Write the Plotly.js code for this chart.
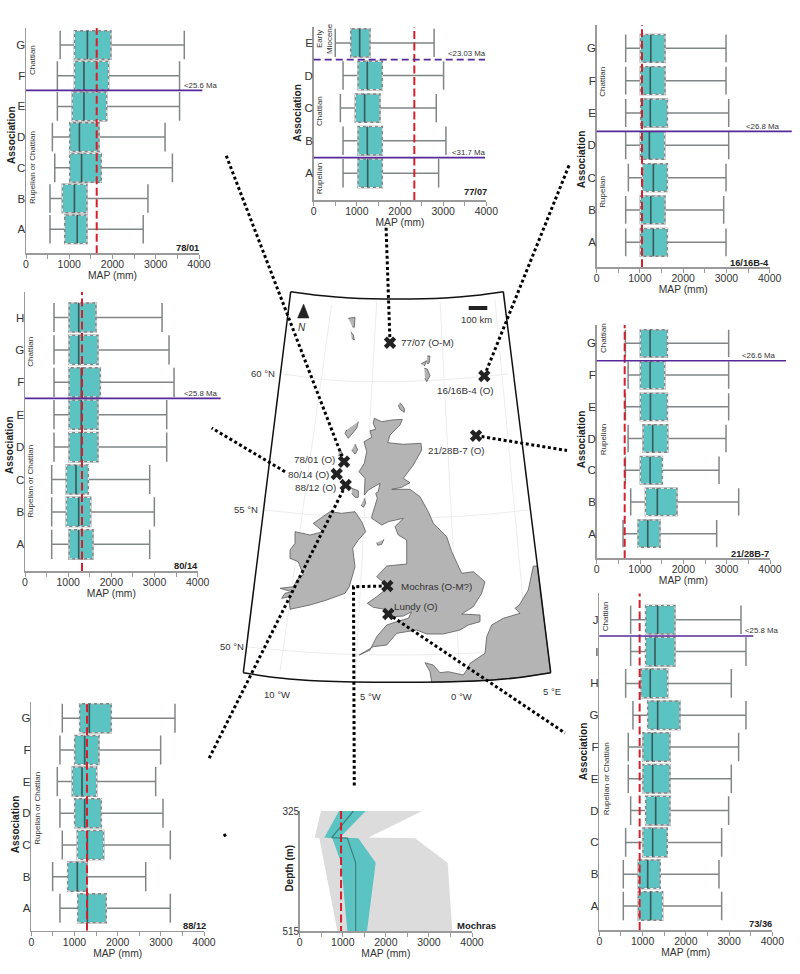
<!DOCTYPE html>
<html><head><meta charset="utf-8">
<script src="https://cdn.plot.ly/plotly-3.0.0.min.js"></script>
<style>html,body{margin:0;padding:0;background:#fff}#c{width:800px;height:974px}</style>
</head><body><div id="c"></div>
<script>
// ---------- chart data (MAP in mm) ----------
const mapTicks = [0,500,1000,1500,2000,2500,3000,3500,4000];
const mapTickText = ['0','','1000','','2000','','3000','','4000'];

const cats7801 = ['A','B','C','D','E','F','G'];
const low7801  = [555,555,665,610,725,725,790];
const q17801   = [895,840,1010,1010,1070,1120,1120];
const med7801  = [1185,1120,1285,1235,1340,1340,1420];
const q37801   = [1410,1410,1740,1690,1865,1910,1965];
const high7801 = [2710,2820,3385,3215,3550,3550,3660];

const cats7707 = ['A','B','C','D','E'];
const low7707  = [680,680,618,680,500];
const q17707   = [1027,1027,965,1027,857];
const med7707  = [1250,1243,1180,1243,1065];
const q37707   = [1590,1590,1537,1590,1305];
const high7707 = [2895,3065,2840,3010,2790];

const cats1616 = ['A','B','C','D','E','F','G'];
const low1616  = [670,670,732,670,670,670,670];
const q11616   = [1010,1010,1064,1010,1017,1010,1010];
const med1616  = [1310,1250,1310,1218,1240,1240,1250];
const q31616   = [1634,1580,1634,1572,1634,1580,1580];
const high1616 = [2990,2936,2990,3052,3052,2990,2990];

const cats8014 = ['A','B','C','D','E','F','G','H'];
const low8014  = [618,618,618,672,672,672,672,672];
const q18014   = [1020,958,958,1020,1020,1020,1020,1020];
const med8014  = [1243,1243,1181,1305,1305,1305,1243,1243];
const q38014   = [1575,1521,1467,1691,1691,1745,1691,1645];
const high8014 = [2888,2996,2888,3282,3282,3452,3336,3174];

const cats2128 = ['A','B','C','D','E','F','G'];
const low2128  = [608,785,662,725,662,725,662];
const q12128   = [954,1125,1008,1070,1008,1008,1008];
const med2128  = [1177,1400,1233,1292,1240,1233,1233];
const q32128   = [1462,1854,1516,1640,1632,1570,1632];
const high2128 = [2769,3277,2823,2985,3046,3046,3046];

const cats7336 = ['A','B','C','D','E','F','G','H','I','J'];
const low7336  = [555,555,609,725,670,670,778,609,725,725];
const q17336   = [902,902,1010,1071,1010,1010,1118,963,1071,1071];
const med7336  = [1187,1118,1233,1303,1233,1225,1349,1179,1287,1349];
const q37336   = [1464,1410,1572,1634,1634,1634,1865,1580,1750,1750];
const high7336 = [2829,2767,2829,2990,3052,3221,3391,3052,3391,3276];

const cats8812 = ['A','B','C','D','E','F','G'];
const low8812  = [664,494,718,664,602,664,718];
const q18812   = [1074,842,1066,1004,950,1004,1120];
const med8812  = [1298,1066,1298,1236,1174,1236,1344];
const q38812   = [1737,1290,1676,1622,1514,1568,1853];
const high8812 = [3220,2650,3220,3050,2880,2996,3328];

const redMap = {p7801:1635,p7707:2332,p1616:1048,p8014:1320,p2128:646,p7336:933,p8812:1290};

const mochDepth    = [325,367,368,407,515];
const mochGreyLow  = [495,348,456,565,874];
const mochGreyHigh = [2847,1594,2677,3435,3543];
const mochQ1       = [913,572,758,960,1106];
const mochQ3       = [1532,936,1362,1764,1563];
const mochMed      = [1246,743,1106,1300,1300];
const mochRed      = 960;

// ---------- map outlines, in page pixels ----------
const gbX=[374.3,381.7,391.7,402.3,400,390,387.7,403.3,421,421.7,413.3,403.3,410,401.7,391.7,410,420,428.3,433.3,446.7,451.7,461.7,473.3,485,481.7,473.3,461.7,480,480,468.3,460,443.3,426.7,416.7,406.7,396.7,386.7,373.3,359.3,370,376.7,386.7,396.7,408.3,411.7,403.3,393.3,385,373.3,367.3,376.7,385,386.7,376.7,386.7,406.7,406.7,398.3,395,403.3,388.3,381.7,371.7,371.7,377.3,375.7,378.3,380,368.3,364.3,365,359,364.3,366.7,364,371.7,370,375.7,373.3,374.3];
const gbY=[418.3,421.7,420,419.3,425,435,442.7,444.3,443.3,450,465,478.3,482.7,487.3,489.3,489.3,496.7,511.7,523.3,536.7,551.7,573.3,571.7,581.7,593.3,606.7,614,615,621.7,625,630,634,634,630,631.7,633.3,645,646.7,655,650,636.7,625,621.7,618.3,611.7,616,616.7,609.3,607.3,603.3,596.7,590,585,576.7,566,564,540,535,526.7,518.3,521.7,525,518.3,516.7,498.3,493.3,491.7,483.3,490,495,478.3,471.7,463.3,451.7,441.7,437.3,430.7,429.3,423.3,418.3];
const irX=[330,341.7,355,361.7,365.7,358.3,352.7,355,349.3,345,326.7,310,290,289.3,281.7,285,291.7,280,293.3,298.3,303.3,298.3,290,290,295,295,310,323.3,313.3,330];
const irY=[511.7,513.3,511.7,521.7,531.7,540,548.3,566.7,586.7,593.3,600,605,609.3,596.7,598.3,593.3,591.7,588.3,586.7,578.3,575,561.7,558.3,550,543.3,531.7,535,531.7,523.3,511.7];
const frX=[533.3,528.3,519.3,515,520,503.3,491.7,486.7,485,470,466.7,463.3,448.3,440,433.3,425,430,431.7,475,515,550.7,537.4,533.3];
const frY=[566,590,605,608.3,613.3,618.3,625,636.7,653.3,663.3,670,675,671.7,672.7,665,662.7,671.7,682.3,681,678,672.7,566,566];
const isleXs=[[400,404.3,404.3,400,398.3],[358.3,356.7,348.3,345,346.7],[355,357.7,355,351.7],[351.7,358.3,358.3,355,351.7],[364.3,365.7,363.3,361],[384,381.7,377.7,376.7],[339.3,343.3,338.3],[348.3,355,354.3,352.3],[350.7,353.3,354.3,351.7],[427.3,430,429,426.7],[421,426.7,424.3],[424.3,427.3,430,426.7,425]];
const isleYs=[[402.7,408.3,412.3,409.3,405],[421.7,428.3,438.3,433.3,430],[444,450,454,450],[488.3,490.7,497.3,497.3,493.3],[498.3,503.3,507.3,505],[539.3,544.3,545.3,542.7],[448.3,455,455.7],[318.3,317.3,327.3,326.7],[331.7,335,340,338.3],[356,356,363.3,363.3],[364,360.7,366],[368.3,369,375.7,381.7,378.3]];
const frameTopX=[290.7,320,350,397,445,475,503.3];
const frameTopY=[291.7,295.5,298,299,298,295.5,291.7];
const frameBotX=[243.3,280,320,397,475,515,550.7];
const frameBotY=[672.7,678,681,682.3,681,678,672.7];
const gratX=[[283,330,376.7,440,508],[265,330,397,465,528],[247,320,397,475,547],[331.7,280],[376.7,355],[440,460],[495,530]];
const gratY=[[374,380,381.7,380,374],[510,516,518,516,510],[647,653,655,653,647],[305,671.7],[301.7,681.7],[301.7,680],[300,676]];

const siteNames=['77/07 (O-M)','16/16B-4 (O)','21/28B-7 (O)','78/01 (O)','80/14 (O)','88/12 (O)','Mochras (O-M?)','Lundy (O)'];
const siteX=[390,484.3,476,344,336.7,345.7,387.3,388.3];
const siteY=[342.7,376,435.7,461.7,474,485,586,614];
const siteLabelX=[427,465.3,456,314.3,308.3,315,436,416];
const siteLabelY=[342.3,390.7,450,459.3,474.3,487.3,586.7,606];
const linkXs=[[390,386],[484.3,570],[476,567],[344,226],[285,211.7],[345.7,208.3],[387.3,353.5,354.3],[388.3,565],[224,226]];
const linkYs=[[342.7,225],[376,163],[435.7,450.5],[461.7,155],[471.7,428],[485,760],[586,586.7,787],[614,733],[834,837]];

const GRID='#ededed', TEAL='#5cc3c3', AXIS='#9a9a9a', RED='#d2202c', PURPLE='#55299a', TXT='#333';
const FONT='"Liberation Sans", Arial, sans-serif';

const panels=[
 {id:'78/01',cats:cats7801,low:low7801,q1:q17801,med:med7801,q3:q37801,high:high7801,red:redMap.p7801,x0:26,x1:199,top:28,bot:253.3,a:229.3,sp:30.73,w:.93,
  lines:[{y:4.52,xe:4077,d:'solid',t:'<25.6 Ma',tx:200.5,ty:85.7}],idAt:[187,248],assoc:[11,135],side:[['Chattian',32,60],['Rupelian or Chattian',32,168]]},
 {id:'77/07',cats:cats7707,low:low7707,q1:q17707,med:med7707,q3:q37707,high:high7707,red:redMap.p7707,x0:313.7,x1:486.3,top:27,bot:200,a:173.3,sp:32.6,w:.87,
  lines:[{y:.48,xe:3970,d:'solid',t:'<31.7 Ma',tx:468,ty:152.7},{y:3.49,xe:3970,d:'7px,4px',t:'<23.03 Ma',tx:466.7,ty:53}],idAt:[475,191.7],assoc:[298,112.7],side:[['Early<br>Miocene',324,39],['Chattian',319.3,110.7],['Rupelian',319.3,178]]},
 {id:'16/16B-4',cats:cats1616,low:low1616,q1:q11616,med:med1616,q3:q31616,high:high1616,red:redMap.p1616,x0:596.7,x1:769.7,top:25,bot:267.3,a:242.3,sp:32.33,w:.86,
  lines:[{y:3.43,xe:4510,d:'solid',t:'<26.8 Ma',tx:762,ty:126}],idAt:[749,263],assoc:[581.3,159],side:[['Chattian',603,81.7],['Rupelian',603,191.7]]},
 {id:'80/14',cats:cats8014,low:low8014,q1:q18014,med:med8014,q3:q38014,high:high8014,red:redMap.p8014,x0:25,x1:197.7,top:291.7,bot:571,a:544.3,sp:32.4,w:.9,
  lines:[{y:4.505,xe:4533,d:'solid',t:'<25.8 Ma',tx:200,ty:393.7}],idAt:[185.7,566],assoc:[9,445],side:[['Chattian',31,351.7],['Rupelian or Chattian',31,481.7]]},
 {id:'21/28B-7',cats:cats2128,low:low2128,q1:q12128,med:med2128,q3:q32128,high:high2128,red:redMap.p2128,x0:596.7,x1:770,top:325,bot:558.3,a:533.7,sp:31.73,w:.86,
  lines:[{y:5.45,xe:4370,d:'solid',t:'<26.6 Ma',tx:758.3,ty:355.3}],idAt:[750,553.7],assoc:[581.3,439],side:[['Chattian',603,338],['Rupelian',603,439.3]]},
 {id:'73/36',cats:cats7336,low:low7336,q1:q17336,med:med7336,q3:q37336,high:high7336,red:redMap.p7336,x0:599.3,x1:772.3,top:593.3,bot:930,a:906,sp:31.8,w:.9,
  lines:[{y:8.49,xe:3560,d:'solid',t:'<25.8 Ma',tx:761,ty:630.7}],idAt:[760,924.3],assoc:[583.3,751],side:[['Chattian',605.3,616],['Rupelian or Chattian',606,779.3]]},
 {id:'88/12',cats:cats8812,low:low8812,q1:q18812,med:med8812,q3:q38812,high:high8812,red:redMap.p8812,x0:31.3,x1:204,top:701.7,bot:930.7,a:908.3,sp:31.67,w:.92,
  lines:[],idAt:[194,926],assoc:[15.3,824],side:[['Rupelian or Chattian',36.7,808]]}
];

const traces=[], annotations=[], shapes=[];
const layout={width:800,height:974,margin:{l:0,r:0,t:0,b:0,pad:0},paper_bgcolor:'#fff',plot_bgcolor:'rgba(0,0,0,0)',showlegend:false,hovermode:false,
  font:{family:FONT,color:TXT},
  xaxis:{domain:[0,1],range:[0,800],visible:false,fixedrange:true},
  yaxis:{domain:[0,1],range:[974,0],visible:false,fixedrange:true}};

function note(text,x,y,o){annotations.push(Object.assign({text,x,y,xref:'x',yref:'y',showarrow:false,xanchor:'center',yanchor:'middle',font:{size:10,color:TXT,family:FONT}},o||{}));}

// ---- map layer ----
gratX.forEach((xs,i)=>traces.push({type:'scatter',mode:'lines',x:xs,y:gratY[i],line:{color:GRID,width:1,shape:'spline'}}));
const land=(x,y)=>traces.push({type:'scatter',mode:'lines',x,y,fill:'toself',fillcolor:'#b4b4b4',line:{color:'#5a5a5a',width:.8}});
land(gbX,gbY);land(irX,irY);land(frX,frY);
isleXs.forEach((xs,i)=>land(xs,isleYs[i]));
traces.push({type:'scatter',mode:'lines',x:frameTopX,y:frameTopY,line:{color:'#111',width:1.5,shape:'spline'}});
traces.push({type:'scatter',mode:'lines',x:frameBotX,y:frameBotY,line:{color:'#111',width:1.5,shape:'spline'}});
traces.push({type:'scatter',mode:'lines',x:[290.7,243.3],y:[291.7,672.7],line:{color:'#111',width:1.5}});
traces.push({type:'scatter',mode:'lines',x:[503.3,550.7],y:[291.7,672.7],line:{color:'#111',width:1.5}});
linkXs.forEach((xs,i)=>traces.push({type:'scatter',mode:'lines',x:xs,y:linkYs[i],line:{color:'#000',width:3,dash:'3px,2.6px'}}));
traces.push({type:'scatter',mode:'markers',x:siteX,y:siteY,marker:{symbol:'x',size:11,color:'#222',line:{width:0}}});
traces.push({type:'scatter',mode:'lines',x:[297.6,309,303.6,297.6],y:[318,318,304,318],fill:'toself',fillcolor:'#222',line:{color:'#222',width:.5}});
traces.push({type:'scatter',mode:'lines',x:[468.7,487.3],y:[308,308],line:{color:'#222',width:4}});
siteNames.forEach((n,i)=>note(n,siteLabelX[i],siteLabelY[i],{font:{size:9.8,color:TXT,family:FONT}}));
note('<i>N</i>',302.3,327.3,{font:{size:10,color:TXT,family:FONT}});
note('100 km',476.7,319.3,{font:{size:9.5,color:TXT,family:FONT}});
[['60 °N',263.3,373.3],['55 °N',246,509.3],['50 °N',232,646],['10 °W',277.3,694],['5 °W',370.7,696.7],['0 °W',461.7,696.7],['5 °E',552.3,691]]
  .forEach(g=>note(g[0],g[1],g[2],{font:{size:9.5,color:TXT,family:FONT}}));

// ---- box panels ----
function axisPair(n,x0,x1,top,bot){
  layout['xaxis'+n]={domain:[x0/800,x1/800],range:[0,4000],anchor:'y'+n,tickmode:'array',tickvals:mapTicks,ticktext:mapTickText,
    ticks:'outside',ticklen:4,tickwidth:1,tickcolor:AXIS,showline:true,linecolor:AXIS,linewidth:1.5,showgrid:false,zeroline:false,fixedrange:true,
    ticklabelstandoff:-3,tickfont:{size:10.5,color:TXT,family:FONT},title:{text:'MAP (mm)',font:{size:10.3,color:TXT,family:FONT},standoff:2}};
  layout['yaxis'+n]={domain:[1-bot/974,1-top/974],anchor:'x'+n,showline:true,linecolor:AXIS,linewidth:1.5,showgrid:false,zeroline:false,fixedrange:true,
    ticklabelstandoff:-3,tickfont:{size:11.5,color:TXT,family:FONT},ticks:''};
}
panels.forEach((p,i)=>{
  const n=i+2, xa='x'+n, ya='y'+n;
  axisPair(n,p.x0,p.x1,p.top,p.bot);
  const idx=p.cats.map((c,k)=>k), hw=p.w/2;
  Object.assign(layout['yaxis'+n],{tickmode:'array',tickvals:idx,ticktext:p.cats,range:[(p.a-p.bot)/p.sp,(p.a-p.top)/p.sp]});
  traces.push({type:'box',orientation:'h',xaxis:xa,yaxis:ya,y:idx,q1:p.q1,median:p.med,q3:p.q3,lowerfence:p.low,upperfence:p.high,
    width:p.w,whiskerwidth:1,boxpoints:false,fillcolor:TEAL,line:{color:'#808585',width:1.5}});
  const ox=[],oy=[],mx=[],my=[];
  idx.forEach(k=>{
    ox.push(p.q1[k],p.q3[k],p.q3[k],p.q1[k],p.q1[k],null);
    oy.push(k-hw,k-hw,k+hw,k+hw,k-hw,null);
    mx.push(p.med[k],p.med[k],null); my.push(k-hw,k+hw,null);
  });
  traces.push({type:'scatter',mode:'lines',xaxis:xa,yaxis:ya,x:ox,y:oy,line:{color:'#f2f8f8',width:1,dash:'3px,3px'}});
  traces.push({type:'scatter',mode:'lines',xaxis:xa,yaxis:ya,x:mx,y:my,line:{color:'#2f5f60',width:1.5}});
  traces.push({type:'scatter',mode:'lines',xaxis:xa,yaxis:ya,x:[p.red,p.red],y:layout['yaxis'+n].range,line:{color:RED,width:2,dash:'8px,3.5px'}});
  p.lines.forEach(l=>{
    // the age line runs past the axis end, so its x is expressed on the page while its y stays on the panel's axis
    const xEnd=(p.x0+(p.x1-p.x0)*l.xe/4000)/800;
    shapes.push({type:'line',layer:'above',xref:'paper',yref:ya,x0:p.x0/800,x1:xEnd,y0:l.y,y1:l.y,line:{color:PURPLE,width:1.7,dash:l.d}});
    note(l.t,l.tx,l.ty,{font:{size:7.8,color:TXT,family:FONT}});
  });
  note('<b>'+p.id+'</b>',p.idAt[0],p.idAt[1],{font:{size:9.3,color:'#222',family:FONT}});
  note('<b>Association</b>',p.assoc[0],p.assoc[1],{textangle:-90,font:{size:10.2,color:'#222',family:FONT}});
  p.side.forEach(s=>note(s[0],s[1],s[2],{textangle:-90,font:{size:8,color:TXT,family:FONT}}));
});

// ---- Mochras panel ----
const mn=panels.length+2, mxa='x'+mn, mya='y'+mn;
axisPair(mn,299.7,472,811,931);
Object.assign(layout['yaxis'+mn],{range:[515,325],tickmode:'array',tickvals:[325,515],ticktext:['325','515'],tickfont:{size:10,color:TXT,family:FONT}});
const band=(lo,hi,col)=>traces.push({type:'scatter',mode:'lines',xaxis:mxa,yaxis:mya,x:lo.concat(hi.slice().reverse()),y:mochDepth.concat(mochDepth.slice().reverse()),fill:'toself',fillcolor:col,line:{width:0,color:col}});
band(mochGreyLow,mochGreyHigh,'#dcdcdc');
band(mochQ1,mochQ3,TEAL);
traces.push({type:'scatter',mode:'lines',xaxis:mxa,yaxis:mya,x:mochMed,y:mochDepth,line:{color:'#3c7f80',width:1.2}});
traces.push({type:'scatter',mode:'lines',xaxis:mxa,yaxis:mya,x:[mochRed,mochRed],y:[325,515],line:{color:RED,width:2,dash:'8px,3.5px'}});
note('<b>Depth (m)</b>',289.3,868.3,{textangle:-90,font:{size:10,color:'#222',family:FONT}});
note('<b>Mochras</b>',476.7,925,{font:{size:9.5,color:'#222',family:FONT}});

layout.annotations=annotations;
layout.shapes=shapes;
Plotly.newPlot('c',traces,layout,{displayModeBar:false,staticPlot:true});
</script></body></html>
